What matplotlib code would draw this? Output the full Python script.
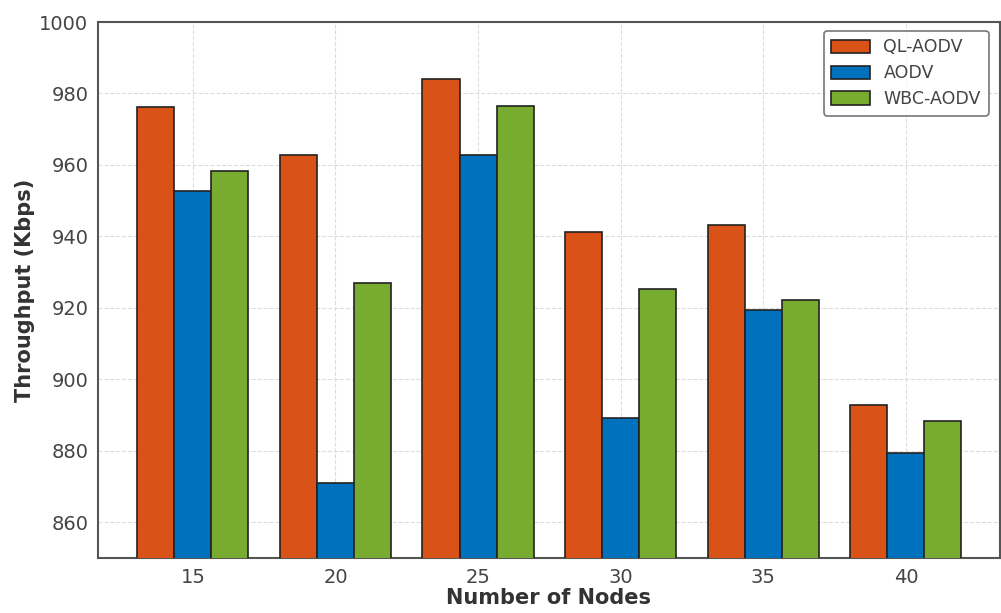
import numpy as np
import matplotlib
matplotlib.use('Agg')
import matplotlib.pyplot as plt

plt.rcParams['font.family'] = ['DejaVu Sans']

nodes = ['15', '20', '25', '30', '35', '40']
ql_aodv = [976.2, 962.8, 984.0, 941.2, 943.2, 892.8]
aodv = [952.7, 870.9, 962.8, 889.2, 919.4, 879.5]
wbc_aodv = [958.3, 926.9, 976.4, 925.2, 922.2, 888.2]

series = [('QL-AODV', ql_aodv, '#D95319'),
          ('AODV', aodv, '#0072BD'),
          ('WBC-AODV', wbc_aodv, '#77AC30')]

fig = plt.figure(figsize=(10.01, 6.13), dpi=100)
ax = fig.add_axes([98 / 1001, 55 / 613, 902 / 1001, 536 / 613])

x = np.arange(len(nodes))
w = 0.26
for i, (name, vals, col) in enumerate(series):
    ax.bar(x + (i - 1) * w, vals, w, color=col, edgecolor='#222222',
           linewidth=1.2, label=name, zorder=3)

ax.set_ylim(850, 1000)
ax.set_xlim(-0.665, 5.66)
ax.set_xticks(x)
ax.set_xticklabels(nodes)
ax.set_yticks(np.arange(860, 1001, 20))
ax.tick_params(length=0, labelsize=14, labelcolor='#444444', pad=7)
ax.grid(True, linestyle='--', color='#dddddd', linewidth=0.8, zorder=0)
for s in ax.spines.values():
    s.set_color('#555555')
    s.set_linewidth(1.5)

ax.set_xlabel('Number of Nodes', fontsize=15, fontweight='bold', color='#333333', labelpad=1)
ax.set_ylabel('Throughput (Kbps)', fontsize=15, fontweight='bold', color='#333333', labelpad=3)

leg = ax.legend(loc='upper right', fontsize=12.5, frameon=True, fancybox=True,
                edgecolor='#555555', borderpad=0.45, handlelength=2.2,
                handleheight=0.8, labelspacing=0.45, bbox_to_anchor=(0.997, 1.0))
leg.get_frame().set_linewidth(1.2)
for t in leg.get_texts():
    t.set_color('#444444')

fig.savefig('out.png', dpi=100)
